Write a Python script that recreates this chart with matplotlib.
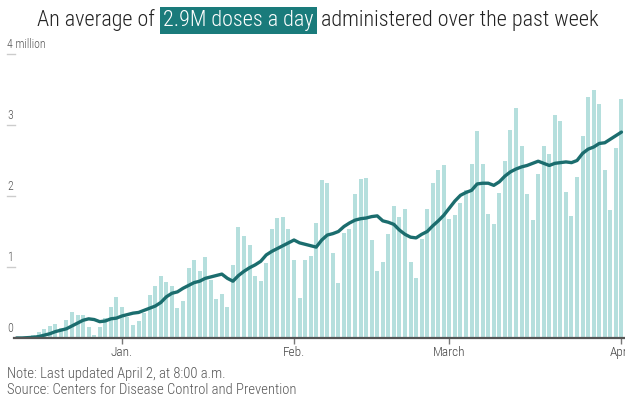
# Daily COVID-19 vaccine doses administered, with 7-day average line

import pandas as pd
import matplotlib
matplotlib.use("Agg")
import matplotlib.pyplot as plt
import matplotlib.dates as mdates
import matplotlib.font_manager as fm

# pick a narrow face if one is installed, else a plain sans
names = {f.name for f in fm.fontManager.ttflist}
stretch = "normal"
if "Roboto Condensed" in names:
    face = "Roboto Condensed"
elif "Liberation Sans Narrow" in names:
    face = "Liberation Sans Narrow"
elif any(f.name == "DejaVu Sans" and "condensed" in str(f.stretch) for f in fm.fontManager.ttflist):
    face, stretch = "DejaVu Sans", "condensed"
else:
    face = "Roboto"
plt.rcParams["font.family"] = [face, "DejaVu Sans"]
plt.rcParams["font.stretch"] = stretch

# daily doses administered [millions], Dec 13 2020 .. Apr 1 2021
doses = [0.00, 0.01, 0.02, 0.04, 0.08, 0.12, 0.17, 0.20, 0.14, 0.25,
         0.36, 0.33, 0.33, 0.16, 0.04, 0.16, 0.28, 0.43, 0.58, 0.43,
         0.30, 0.18, 0.24, 0.35, 0.60, 0.73, 0.87, 0.79, 0.73, 0.42,
         0.52, 0.98, 1.10, 0.95, 1.14, 0.82, 0.55, 0.62, 0.43, 1.03,
         1.56, 1.43, 1.31, 0.88, 0.80, 1.05, 1.54, 1.69, 1.70, 1.54,
         1.10, 0.56, 1.10, 1.15, 1.62, 2.22, 2.18, 1.20, 0.78, 1.48,
         1.53, 2.03, 2.24, 2.25, 1.38, 0.95, 1.07, 1.46, 1.86, 1.70,
         1.82, 1.07, 0.85, 1.40, 1.82, 2.18, 2.36, 2.43, 1.68, 1.73,
         1.90, 2.08, 2.45, 2.92, 2.45, 1.75, 1.61, 2.04, 2.49, 2.93,
         3.24, 2.70, 2.03, 1.66, 2.31, 2.71, 2.59, 3.14, 3.05, 2.05,
         1.72, 2.27, 2.84, 3.40, 3.50, 3.30, 2.37, 1.80, 2.67, 3.37]

# 7-day average [millions]
avg7 = [0.00, 0.00, 0.005, 0.01, 0.02, 0.04, 0.06, 0.09, 0.11, 0.13,
        0.17, 0.21, 0.25, 0.27, 0.26, 0.23, 0.24, 0.27, 0.28, 0.31,
        0.33, 0.35, 0.36, 0.39, 0.42, 0.45, 0.50, 0.58, 0.63, 0.65,
        0.70, 0.74, 0.78, 0.80, 0.84, 0.86, 0.88, 0.90, 0.84, 0.80,
        0.88, 0.94, 0.99, 1.03, 1.08, 1.17, 1.22, 1.26, 1.30, 1.34,
        1.38, 1.34, 1.32, 1.30, 1.28, 1.38, 1.45, 1.47, 1.50, 1.57,
        1.62, 1.66, 1.68, 1.69, 1.71, 1.72, 1.65, 1.63, 1.60, 1.52,
        1.46, 1.42, 1.41, 1.46, 1.50, 1.58, 1.65, 1.73, 1.83, 1.93,
        2.01, 2.05, 2.08, 2.17, 2.18, 2.18, 2.15, 2.20, 2.28, 2.34,
        2.38, 2.41, 2.43, 2.46, 2.49, 2.46, 2.43, 2.46, 2.47, 2.48,
        2.47, 2.50, 2.60, 2.66, 2.69, 2.74, 2.75, 2.80, 2.85, 2.90]

dates = pd.date_range("2020-12-13", periods=len(doses), freq="D")

yticks = [0, 1, 2, 3, 4]
ylabels = ["0", "1", "2", "3", "4 million"]
month_ticks = pd.to_datetime(["2021-01-01", "2021-02-01", "2021-03-01", "2021-04-01"])
month_labels = ["Jan.", "Feb.", "March", "April"]

bar_color = "#b5dfdd"
line_color = "#1b6d6e"
hl_color = "#1a7b7b"

fig = plt.figure(figsize=(6.25, 3.98), dpi=100)
ax = fig.add_axes([14 / 625, 60 / 398, 610 / 625, 284 / 398])

ax.bar(dates, doses, width=0.72, color=bar_color, zorder=1)
ax.plot(dates, avg7, color=line_color, lw=2.4, zorder=3,
        solid_capstyle="round", solid_joinstyle="round")

x0 = mdates.date2num(dates[0])
ax.set_xlim(x0 - 0.45, x0 + 109.46)
ax.set_ylim(0, 4)

for s in ["top", "right", "left"]:
    ax.spines[s].set_visible(False)
ax.spines["bottom"].set_color("#555555")
ax.spines["bottom"].set_linewidth(1.6)
ax.spines["bottom"].set_zorder(4)

ax.set_yticks([])
ax.set_xticks(month_ticks)
ax.set_xticklabels(month_labels)
ax.tick_params(axis="x", length=4, width=1, color="#777777",
               labelsize=9.5, labelcolor="#444444", pad=2)
for lab in ax.get_xticklabels():
    lab.set_fontweight("light")

ytr = ax.get_yaxis_transform()
for v, lab in zip(yticks, ylabels):
    ax.annotate(lab, xy=(-0.011, v), xycoords=ytr, xytext=(0, 2),
                textcoords="offset points", ha="left", va="bottom",
                fontsize=8.5, color="#555555", fontweight="light",
                annotation_clip=False)
    if v > 0:
        ax.plot([-0.012, 0.002], [v, v], transform=ytr, color="#cccccc",
                lw=1, clip_on=False)

# title with highlighted phrase, sized to span x=37..598 px
ty = 1 - 26 / 398
t1 = fig.text(37 / 625, ty, "An average of", color="#222222",
              va="baseline", ha="left", fontweight="light")
t2 = fig.text(0, ty, "2.9M doses a day", color="white", va="baseline", ha="left",
              fontweight="light",
              bbox=dict(boxstyle="square,pad=0.15", fc=hl_color, ec="none"))
t3 = fig.text(0, ty, "administered over the past week", color="#222222",
              va="baseline", ha="left", fontweight="light")


def place_title(size):
    for t in (t1, t2, t3):
        t.set_fontsize(size)
    fig.canvas.draw()
    r = fig.canvas.get_renderer()
    gap = 0.5 * size
    e1 = t1.get_window_extent(r)
    t2.set_position(((e1.x1 + gap) / fig.bbox.width, ty))
    e2 = t2.get_window_extent(r)
    t3.set_position(((e2.x1 + gap) / fig.bbox.width, ty))
    return t3.get_window_extent(r).x1 - e1.x0


w = place_title(16)
place_title(16 * 561 / w)

fig.text(7 / 625, 1 - 378 / 398, "Note: Last updated April 2, at 8:00 a.m.",
         fontsize=10.5, color="#555555", va="baseline", ha="left", fontweight="light")
fig.text(7 / 625, 1 - 394 / 398, "Source: Centers for Disease Control and Prevention",
         fontsize=10.5, color="#555555", va="baseline", ha="left", fontweight="light")

fig.savefig("out.png", dpi=100)
